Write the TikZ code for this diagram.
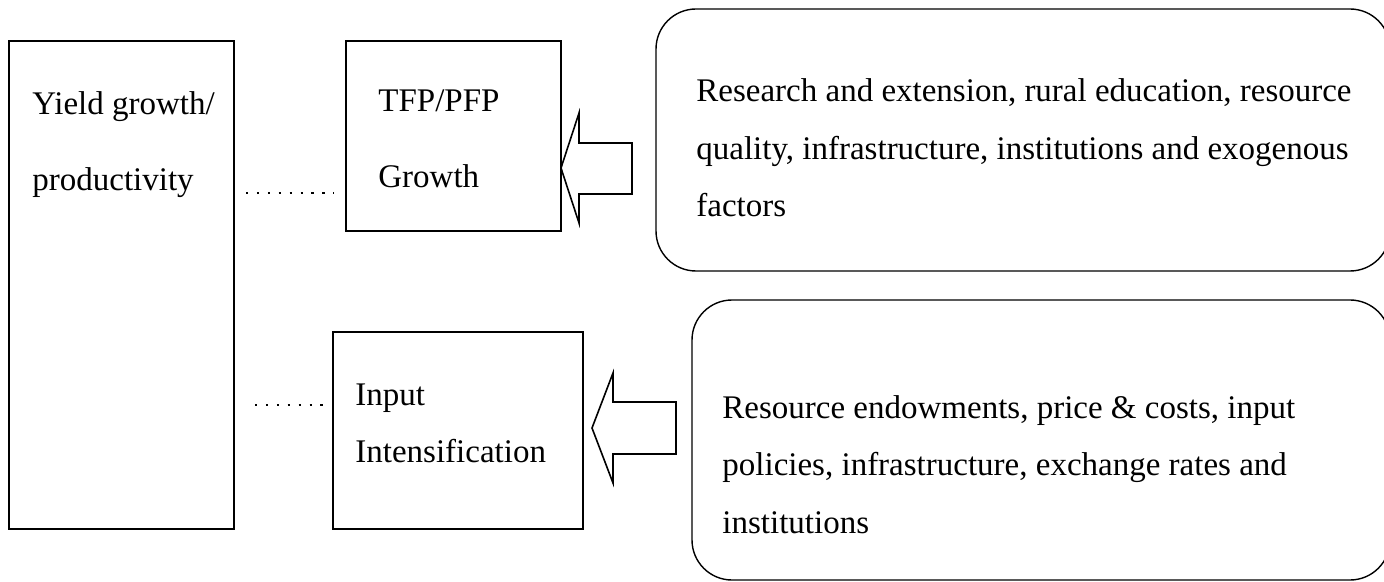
\documentclass[tikz,border=0pt]{standalone}
\usepackage{fontspec}
\setmainfont{Liberation Serif}
\usetikzlibrary{calc}
\begin{document}
\begin{tikzpicture}[x=0.5pt,y=-0.5pt,
  box/.style={draw,line width=0.7pt,inner sep=0pt,rectangle},
  roundbox/.style={draw,line width=0.7pt,inner sep=0pt,rectangle,rounded corners=20pt},
  lbl/.style={anchor=base west,inner sep=0pt,font=\fontsize{16.5pt}{20pt}\selectfont},
  blockarrow/.style={draw,line width=0.8pt,fill=white,line join=miter},
  dotline/.style={line width=1.2pt,dash pattern=on 1.2pt off 4.25pt}]
\useasboundingbox (0,0) rectangle (1384,582);

% boxes
\node[box,minimum width=112.5pt,minimum height=244pt] (yield) at (121.5,285) {};
\node[box,minimum width=107.5pt,minimum height=95pt] (tfp) at (453.5,136) {};
\node[box,minimum width=125pt,minimum height=98.5pt] (input) at (458,430.5) {};
\node[roundbox,minimum width=367pt,minimum height=131pt] (drv1) at (1023,140) {};
\node[roundbox,minimum width=349pt,minimum height=140pt] (drv2) at (1041,440) {};

% block arrows from the driver boxes
\draw[blockarrow] (561,168) -- (579,113) -- (579,143) -- (632,143) -- (632,194)
  -- (579,194) -- (579,223) -- cycle;
\draw[blockarrow] (592,428) -- (613,373) -- (613,402) -- (676,402) -- (676,454)
  -- (613,454) -- (613,483) -- cycle;

% dotted links
\coordinate (d1a) at (246,193);
\coordinate (d1b) at (334,193);
\coordinate (d2a) at (255,405);
\coordinate (d2b) at (328,405);
\draw[dotline] (d1a) -- (d1b);
\draw[dotline] (d2a) -- (d2b);

% texts
\node[lbl] (y1) at (32,115) {Yield growth/};
\node[lbl] (y2) at (32,191) {productivity};
\node[lbl] (t1) at (378,112) {TFP/PFP};
\node[lbl] (t2) at (378,188) {Growth};
\node[lbl] (i1) at (355,405) {Input};
\node[lbl] (i2) at (355,462.5) {Intensification};
\node[lbl] (r1) at (696,102) {Research and extension, rural education, resource};
\node[lbl] (r2) at (696,159.5) {quality, infrastructure, institutions and exogenous};
\node[lbl] (r3) at (696,217) {factors};
\node[lbl] (s1) at (722,418) {Resource endowments, price \& costs, input};
\node[lbl] (s2) at (722,475.5) {policies, infrastructure, exchange rates and};
\node[lbl] (s3) at (722,533) {institutions};
\end{tikzpicture}
\end{document}
